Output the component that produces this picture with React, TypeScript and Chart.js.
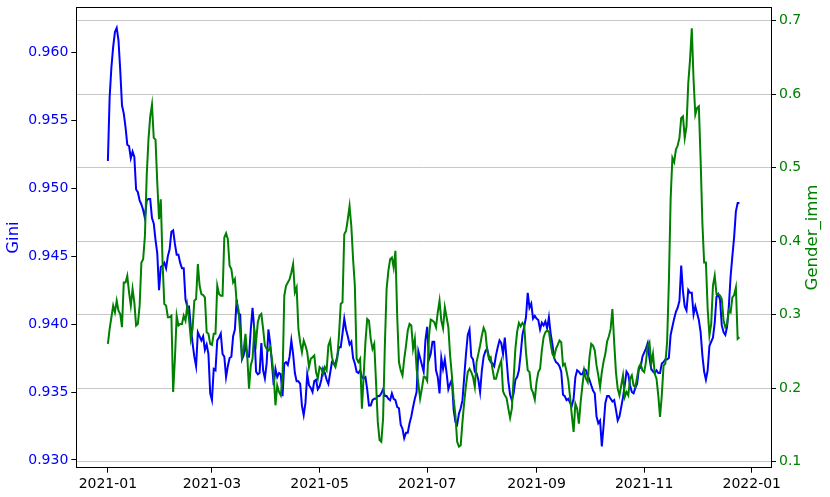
import React, { useEffect, useRef } from "react";
import { Chart, registerables } from "chart.js";

Chart.register(...registerables);

// Daily values, starting 2021-01-01 (index = days since start)
const startDate = "2021-01-01";

const gini = [
  0.9520, 0.9567, 0.9589, 0.9604, 0.9615, 0.9618, 0.9609, 0.9587, 0.9561, 0.9555,
  0.9545, 0.9532, 0.9531, 0.9522, 0.9527, 0.9523, 0.9499, 0.9497, 0.9491, 0.9488,
  0.9484, 0.9478, 0.9491, 0.9492, 0.9492, 0.9478, 0.9474, 0.9462, 0.9452, 0.9425,
  0.9442, 0.9443, 0.9445, 0.9441, 0.9450, 0.9455, 0.9468, 0.9469, 0.9459, 0.9451,
  0.9451, 0.9445, 0.9441, 0.9441, 0.9418, 0.9413, 0.9413, 0.9398, 0.9386, 0.9376,
  0.9369, 0.9394, 0.9391, 0.9388, 0.9391, 0.9381, 0.9385, 0.9378, 0.9349, 0.9344,
  0.9367, 0.9366, 0.9388, 0.9390, 0.9393, 0.9378, 0.9376, 0.9361, 0.9369, 0.9375,
  0.9376, 0.9391, 0.9396, 0.9418, 0.9408, 0.9407, 0.9374, 0.9377, 0.9386, 0.9376,
  0.9376, 0.9396, 0.9412, 0.9396, 0.9365, 0.9363, 0.9364, 0.9386, 0.9366, 0.9360,
  0.9371, 0.9396, 0.9386, 0.9371, 0.9355, 0.9367, 0.9361, 0.9364, 0.9363, 0.9347,
  0.9371, 0.9372, 0.9370, 0.9376, 0.9388, 0.9378, 0.9364, 0.9358, 0.9358, 0.9356,
  0.9340, 0.9333, 0.9342, 0.9363, 0.9355, 0.9353, 0.9350, 0.9358, 0.9359, 0.9352,
  0.9354, 0.9359, 0.9367, 0.9364, 0.9359, 0.9356, 0.9364, 0.9372, 0.9371, 0.9371,
  0.9376, 0.9383, 0.9383, 0.9393, 0.9404, 0.9396, 0.9391, 0.9385, 0.9387, 0.9375,
  0.9371, 0.9365, 0.9364, 0.9366, 0.9361, 0.9360, 0.9361, 0.9352, 0.9340, 0.9340,
  0.9344, 0.9345, 0.9345, 0.9347, 0.9347, 0.9349, 0.9352, 0.9347, 0.9347, 0.9345,
  0.9344, 0.9349, 0.9345, 0.9344, 0.9339, 0.9338, 0.9326, 0.9323, 0.9316, 0.9320,
  0.9320, 0.9327, 0.9332, 0.9339, 0.9345, 0.9350, 0.9380, 0.9375, 0.9370, 0.9365,
  0.9388, 0.9398, 0.9374, 0.9378, 0.9387, 0.9387, 0.9366, 0.9361, 0.9349, 0.9375,
  0.9367, 0.9374, 0.9364, 0.9352, 0.9356, 0.9359, 0.9337, 0.9328, 0.9326, 0.9334,
  0.9338, 0.9344, 0.9361, 0.9378, 0.9392, 0.9396, 0.9376, 0.9374, 0.9365, 0.9364,
  0.9359, 0.9350, 0.9366, 0.9376, 0.9380, 0.9382, 0.9376, 0.9372, 0.9371, 0.9369,
  0.9377, 0.9383, 0.9388, 0.9386, 0.9378, 0.9390, 0.9374, 0.9358, 0.9348, 0.9344,
  0.9349, 0.9359, 0.9361, 0.9366, 0.9378, 0.9392, 0.9398, 0.9405, 0.9423, 0.9412,
  0.9415, 0.9404, 0.9406, 0.9404, 0.9403, 0.9396, 0.9401, 0.9399, 0.9402, 0.9397,
  0.9405, 0.9393, 0.9385, 0.9375, 0.9372, 0.9371, 0.9369, 0.9365, 0.9348, 0.9347,
  0.9344, 0.9345, 0.9342, 0.9340, 0.9345, 0.9361, 0.9366, 0.9365, 0.9363, 0.9363,
  0.9367, 0.9366, 0.9362, 0.9359, 0.9355, 0.9351, 0.9349, 0.9332, 0.9327, 0.9329,
  0.9310, 0.9325, 0.9342, 0.9347, 0.9347, 0.9345, 0.9343, 0.9344, 0.9337, 0.9329,
  0.9332, 0.9339, 0.9346, 0.9355, 0.9365, 0.9363, 0.9355, 0.9350, 0.9349, 0.9353,
  0.9356, 0.9367, 0.9368, 0.9376, 0.9379, 0.9382, 0.9386, 0.9375, 0.9367, 0.9365,
  0.9364, 0.9366, 0.9364, 0.9364, 0.9371, 0.9372, 0.9374, 0.9374, 0.9375, 0.9392,
  0.9398, 0.9404, 0.9409, 0.9412, 0.9417, 0.9443, 0.9424, 0.9413, 0.9410, 0.9425,
  0.9423, 0.9423, 0.9407, 0.9413, 0.9408, 0.9403, 0.9394, 0.9377, 0.9365, 0.9359,
  0.9366, 0.9384, 0.9387, 0.9390, 0.9401, 0.9420, 0.9422, 0.9418, 0.9399, 0.9394,
  0.9392, 0.9398, 0.9413, 0.9435, 0.9450, 0.9464, 0.9483, 0.9489, 0.9489,
];

const genderImm = [
  0.2603, 0.2806, 0.2965, 0.3123, 0.3032, 0.3190, 0.3055, 0.3010, 0.2829, 0.3439,
  0.3439, 0.3530, 0.3304, 0.3123, 0.3349, 0.3168, 0.2852, 0.2874, 0.3123, 0.3710,
  0.3755, 0.4072, 0.4885, 0.5382, 0.5698, 0.5857, 0.5405, 0.5382, 0.4795, 0.4298,
  0.4569, 0.3710, 0.3145, 0.3123, 0.2965, 0.2965, 0.2987, 0.1948, 0.2400, 0.2987,
  0.2852, 0.2874, 0.2874, 0.2987, 0.2919, 0.3123, 0.2942, 0.2671, 0.2806, 0.3190,
  0.3213, 0.3688, 0.3394, 0.3281, 0.3267, 0.3236, 0.2761, 0.2739, 0.2603, 0.2589,
  0.2739, 0.2739, 0.3394, 0.3281, 0.3258, 0.3258, 0.4049, 0.4108, 0.4027, 0.3665,
  0.3620, 0.3439, 0.3484, 0.3168, 0.3077, 0.2761, 0.2422, 0.2535, 0.2739, 0.2445,
  0.1993, 0.2309, 0.2400, 0.2784, 0.2626, 0.2897, 0.2987, 0.3010, 0.2806, 0.2580,
  0.2535, 0.2513, 0.2558, 0.2400, 0.2174, 0.1767, 0.2038, 0.1948, 0.1903, 0.2129,
  0.3258, 0.3394, 0.3439, 0.3484, 0.3575, 0.3688, 0.3304, 0.3371, 0.2806, 0.2626,
  0.2490, 0.2648, 0.2580, 0.2490, 0.2287, 0.2400, 0.2422, 0.2445, 0.2219, 0.2129,
  0.2287, 0.2264, 0.2196, 0.2287, 0.2242, 0.2580, 0.2648, 0.2422, 0.2332, 0.2287,
  0.2400, 0.2716, 0.3145, 0.3168, 0.4094, 0.4140, 0.4298, 0.4478, 0.4207, 0.3755,
  0.3394, 0.2400, 0.2355, 0.2400, 0.1722, 0.2174, 0.2626, 0.2942, 0.2919, 0.2671,
  0.2535, 0.2603, 0.2083, 0.1541, 0.1293, 0.1270, 0.1586, 0.2580, 0.3349, 0.3597,
  0.3755, 0.3778, 0.3642, 0.3868, 0.2987, 0.2355, 0.2242, 0.2174, 0.2400, 0.2580,
  0.2784, 0.2874, 0.2852, 0.2535, 0.2671, 0.2264, 0.2061, 0.1857, 0.1993, 0.2151,
  0.2150, 0.2100, 0.2700, 0.2933, 0.2919, 0.2897, 0.2829, 0.3032, 0.3190, 0.2919,
  0.2815, 0.3100, 0.2965, 0.2829, 0.2445, 0.2174, 0.1857, 0.1631, 0.1270, 0.1205,
  0.1225, 0.1541, 0.1812, 0.2038, 0.2219, 0.2264, 0.2219, 0.2151, 0.2016, 0.2355,
  0.2467, 0.2580, 0.2716, 0.2820, 0.2761, 0.2513, 0.2400, 0.2422, 0.2264, 0.2129,
  0.2129, 0.2219, 0.2309, 0.2377, 0.1957, 0.1903, 0.1866, 0.1722, 0.1595, 0.1722,
  0.2129, 0.2535, 0.2770, 0.2888, 0.2842, 0.2888, 0.2852, 0.2490, 0.2242, 0.2219,
  0.1993, 0.1939, 0.1846, 0.2083, 0.2219, 0.2264, 0.2513, 0.2693, 0.2761, 0.2784,
  0.2770, 0.2603, 0.2467, 0.2422, 0.2535, 0.2589, 0.2648, 0.2626, 0.2309, 0.2332,
  0.2228, 0.2106, 0.1880, 0.1631, 0.1405, 0.1790, 0.1722, 0.1518, 0.1812, 0.2038,
  0.2242, 0.2129, 0.2083, 0.2422, 0.2603, 0.2580, 0.2513, 0.2309, 0.2174, 0.2016,
  0.2219, 0.2363, 0.2467, 0.2635, 0.2707, 0.2806, 0.3077, 0.2626, 0.2219, 0.1993,
  0.1903, 0.2038, 0.2174, 0.1880, 0.1948, 0.1903, 0.2129, 0.2174, 0.2038, 0.2016,
  0.2151, 0.2287, 0.2330, 0.2242, 0.2219, 0.2355, 0.2580, 0.2626, 0.2332, 0.2467,
  0.2196, 0.2129, 0.1903, 0.1609, 0.1903, 0.2309, 0.2332, 0.2626, 0.3439, 0.4569,
  0.5134, 0.5075, 0.5247, 0.5301, 0.5405, 0.5676, 0.5698, 0.5405, 0.5563, 0.6150,
  0.6467, 0.6896, 0.6196, 0.5721, 0.5811, 0.5834, 0.5111, 0.4252, 0.3710, 0.3710,
  0.3077, 0.2716, 0.2874, 0.3394, 0.3530, 0.3281, 0.3281, 0.3258, 0.3213, 0.2919,
  0.2829, 0.2874, 0.3055, 0.3032, 0.3236, 0.3267, 0.3371, 0.2671, 0.2693,
];

// x tick positions (days since startDate) and labels
const xTickDays = [0, 59, 120, 181, 243, 304, 365];
const xTickLabels = ["2021-01", "2021-03", "2021-05", "2021-07", "2021-09", "2021-11", "2022-01"];
const giniTicks = [0.93, 0.935, 0.94, 0.945, 0.95, 0.955, 0.96];
const genderTicks = [0.1, 0.2, 0.3, 0.4, 0.5, 0.6, 0.7];

const FONT = "'DejaVu Sans', sans-serif";

export default function App() {
  const ref = useRef<HTMLCanvasElement>(null);

  useEffect(() => {
    document.body.style.margin = "0";
    const canvas = ref.current;
    if (!canvas) return;

    const frame = {
      id: "frame",
      afterDraw(chart: any) {
        const { ctx, chartArea } = chart;
        const { left, top, right, bottom } = chartArea;
        ctx.save();
        ctx.strokeStyle = "#000";
        ctx.lineWidth = 1;
        ctx.strokeRect(Math.round(left) + 0.5, Math.round(top) + 0.5, Math.round(right - left), Math.round(bottom - top));
        const cy = (top + bottom) / 2;
        ctx.font = `16.5px ${FONT}`;
        ctx.textAlign = "center";
        ctx.textBaseline = "middle";
        ctx.fillStyle = "#0000ff";
        ctx.translate(14, cy);
        ctx.rotate(-Math.PI / 2);
        ctx.fillText("Gini", 0, 0);
        ctx.restore();
        ctx.save();
        ctx.font = `16.5px ${FONT}`;
        ctx.textAlign = "center";
        ctx.textBaseline = "middle";
        ctx.fillStyle = "#008000";
        ctx.translate(813, cy);
        ctx.rotate(-Math.PI / 2);
        ctx.fillText("Gender_imm", 0, 0);
        ctx.restore();
      },
    };

    const chart = new Chart(canvas, {
      type: "line",
      data: {
        datasets: [
          {
            label: "Gender_imm",
            data: genderImm.map((v, i) => ({ x: i, y: v })),
            yAxisID: "y1",
            borderColor: "#008000",
            borderWidth: 2,
            pointRadius: 0,
            tension: 0,
            order: 0,
          },
          {
            label: "Gini",
            data: gini.map((v, i) => ({ x: i, y: v })),
            yAxisID: "y",
            borderColor: "#0000ff",
            borderWidth: 2,
            pointRadius: 0,
            tension: 0,
            order: 1,
          },
        ],
      },
      options: {
        animation: false,
        responsive: false,
        devicePixelRatio: 1,
        layout: { padding: { top: 7.3, left: 0, right: 0, bottom: 0 } },
        plugins: { legend: { display: false }, tooltip: { enabled: false } },
        scales: {
          x: {
            type: "linear",
            min: -17.9,
            max: gini.length - 1 + 17.9,
            afterBuildTicks: (s: any) => {
              s.ticks = xTickDays.map((v) => ({ value: v }));
            },
            afterFit: (s: any) => {
              s.height = 29.3;
              s.paddingLeft = 0;
              s.paddingRight = 0;
            },
            ticks: {
              autoSkip: false,
              maxRotation: 0,
              padding: 3,
              color: "#000",
              font: { family: FONT, size: 14 },
              callback: (v: any) => xTickLabels[xTickDays.indexOf(Number(v))] ?? "",
            },
            grid: { drawOnChartArea: false, tickLength: 5, tickColor: "#000", color: "#000" },
            border: { display: true, color: "#000", width: 1 },
          },
          y: {
            position: "left",
            min: 0.92943,
            max: 0.96331,
            afterBuildTicks: (s: any) => {
              s.ticks = giniTicks.map((v) => ({ value: v }));
            },
            afterFit: (s: any) => {
              s.width = 76.3;
              s.paddingTop = 0;
              s.paddingBottom = 0;
            },
            ticks: {
              padding: 3,
              color: "#0000ff",
              font: { family: FONT, size: 14 },
              callback: (v: any) => Number(v).toFixed(3),
            },
            grid: { drawOnChartArea: false, tickLength: 5, tickColor: "#000", color: "#000" },
            border: { display: true, color: "#000", width: 1 },
          },
          y1: {
            position: "right",
            min: 0.0918,
            max: 0.7182,
            afterBuildTicks: (s: any) => {
              s.ticks = genderTicks.map((v) => ({ value: v }));
            },
            afterFit: (s: any) => {
              s.width = 59;
              s.paddingTop = 0;
              s.paddingBottom = 0;
            },
            ticks: {
              padding: 3,
              color: "#008000",
              font: { family: FONT, size: 14 },
              callback: (v: any) => Number(v).toFixed(1),
            },
            grid: { drawOnChartArea: true, tickLength: 5, tickColor: "#000", color: "#c8c8c8", lineWidth: 1 },
            border: { display: true, color: "#000", width: 1 },
          },
        },
      },
      plugins: [frame],
    } as any);

    return () => chart.destroy();
  }, []);

  return (
    <div data-start={startDate} style={{ width: 830, height: 497 }}>
      <canvas ref={ref} width={830} height={497} style={{ display: "block" }} />
    </div>
  );
}
